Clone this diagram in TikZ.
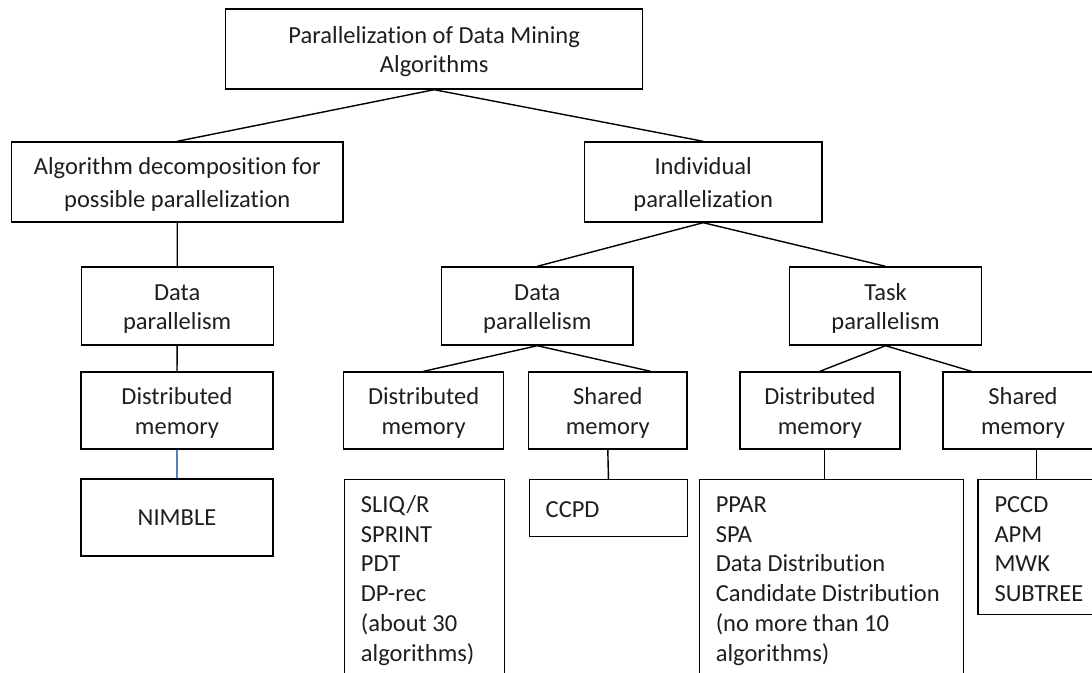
\documentclass[tikz,border=0pt]{standalone}
\usepackage{fontspec}
\setmainfont{Carlito}[Ligatures=NoCommon]
\usetikzlibrary{calc}
\definecolor{linkblue}{RGB}{79,129,189}
\definecolor{txt}{RGB}{30,30,30}
\newcommand\topstrut{\rule{0pt}{22pt}}
\newcommand\liststrut{\rule{0pt}{24pt}}
\begin{document}
\begin{tikzpicture}[x=1pt,y=-1pt,
  box/.style={draw, line width=1.4pt, inner sep=0pt, align=center, text=txt},
  fA/.style={font=\fontsize{24.5}{28.3}\selectfont},
  fB/.style={font=\fontsize{24.5}{33.3}\selectfont},
  fC/.style={font=\fontsize{24.5}{29.3}\selectfont},
  fD/.style={font=\fontsize{24.5}{30}\selectfont},
  lbl/.style={inner sep=0pt, align=left, anchor=north west, text=txt, font=\fontsize{24.5}{29.8}\selectfont},
  conn/.style={line width=1.4pt}]
\clip (0,0) rectangle (1092,672);
% level 0
\node[box, fA, minimum width=417pt, minimum height=80pt] (root) at (434.2,49) {\topstrut Parallelization of Data Mining\\Algorithms};
% level 1
\node[box, fB, minimum width=331.5pt, minimum height=80pt] (alg) at (177.3,182) {\topstrut Algorithm decomposition for\\possible parallelization};
\node[box, fB, minimum width=237.8pt, minimum height=80pt] (ind) at (703.2,182) {\topstrut Individual\\parallelization};
% level 2
\node[box, fC, minimum width=192pt, minimum height=78pt] (dpL) at (177.2,306) {\topstrut Data\\parallelism};
\node[box, fC, minimum width=191.3pt, minimum height=78pt] (dpM) at (537.3,306) {\topstrut Data\\parallelism};
\node[box, fC, minimum width=191.5pt, minimum height=78pt] (tp) at (885.5,306) {\topstrut Task\\parallelism};
% level 3
\node[box, fD, minimum width=192pt, minimum height=77pt] (dmL) at (177,410.5) {\topstrut Distributed\\memory};
\node[box, fD, minimum width=160pt, minimum height=77pt] (dmM) at (423.6,410.5) {\topstrut Distributed\\memory};
\node[box, fD, minimum width=158.5pt, minimum height=77pt] (smM) at (607.8,410.5) {\topstrut Shared\\memory};
\node[box, fD, minimum width=160pt, minimum height=77pt] (dmR) at (819.9,410.5) {\topstrut Distributed\\memory};
\node[box, fD, minimum width=160pt, minimum height=77pt] (smR) at (1023,410.5) {\topstrut Shared\\memory};
% level 4
\node[box, fD, minimum width=192pt, minimum height=77pt] (nimble) at (177,517.5) {NIMBLE};
\node[box, anchor=north west, minimum width=159.8pt, minimum height=220pt] (sliq) at (343.7,479) {};
\node[box, anchor=north west, minimum width=158.5pt, minimum height=57pt] (ccpd) at (528.5,479) {};
\node[box, anchor=north west, minimum width=263.5pt, minimum height=220pt] (ppar) at (699,479) {};
\node[box, anchor=north west, minimum width=130pt, minimum height=135pt] (pccd) at (977.3,479) {};
% list texts
\node[lbl] (sliqtxt) at ($(sliq.north west)+(17,9)$) {\liststrut SLIQ/R\\SPRINT\\PDT\\DP-rec\\(about 30\\algorithms)};
\node[lbl, anchor=base west] (ccpdtxt) at ($(ccpd.north west)+(17,38)$) {CCPD};
\node[lbl] (ppartxt) at ($(ppar.north west)+(16.6,9)$) {\liststrut PPAR\\SPA\\Data Distribution\\Candidate Distribution\\(no more than 10\\algorithms)};
\node[lbl] (pccdtxt) at ($(pccd.north west)+(17,9)$) {\liststrut PCCD\\APM\\MWK\\SUBTREE};
% connectors
\draw[conn] (root.south) -- (alg.north);
\draw[conn] (root.south) -- (ind.north);
\draw[conn] (alg.south) -- (dpL.north);
\draw[conn] (dpL.south) -- (dmL.north);
\draw[line width=1.1pt, draw=linkblue] (dmL.south) -- (nimble.north);
\draw[conn] (ind.south) -- (dpM.north);
\draw[conn] (ind.south) -- (tp.north);
\draw[conn] (dpM.south) -- (dmM.north);
\draw[conn] (dpM.south) -- ($(smM.north west)!0.767!(smM.north east)$);
\draw[conn] (smM.south) -- (ccpd.north);
\draw[conn] (tp.south) -- (dmR.north);
\draw[conn] (tp.south) -- ($(smR.north west)!0.18!(smR.north east)$);
\draw[conn] ([xshift=4.6pt]dmR.south) -- ([xshift=4.6pt]dmR.south |- ppar.north);
\draw[conn] ([xshift=13.7pt]smR.south) -- ([xshift=13.7pt]smR.south |- pccd.north);
\end{tikzpicture}
\end{document}
